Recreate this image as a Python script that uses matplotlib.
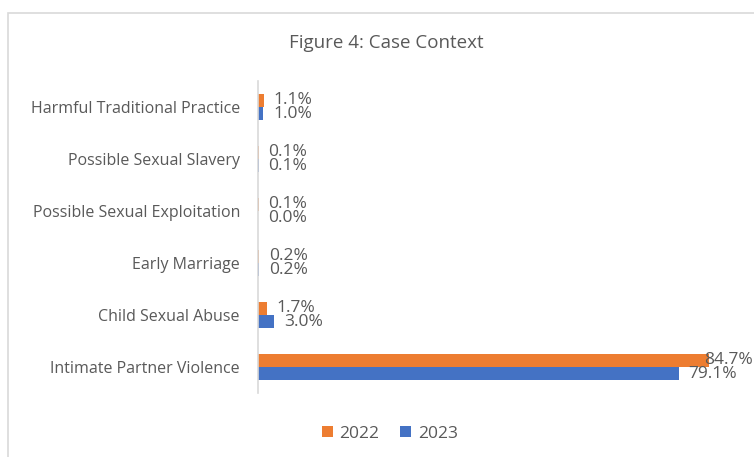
import matplotlib
matplotlib.use("Agg")
import matplotlib.pyplot as plt
import numpy as np
from matplotlib.patches import Rectangle

categories = ["Intimate Partner Violence", "Child Sexual Abuse", "Early Marriage",
              "Possible Sexual Exploitation", "Possible Sexual Slavery", "Harmful Traditional Practice"]
values_2022 = [84.7, 1.7, 0.2, 0.1, 0.1, 1.1]
values_2023 = [79.1, 3.0, 0.2, 0.0, 0.1, 1.0]
series_labels = ["2022", "2023"]

plt.rcParams['font.family'] = ['Open Sans', 'DejaVu Sans']
TXT = "#595959"
C22 = "#ED7D31"
C23 = "#4472C4"

fig = plt.figure(figsize=(7.54, 4.57), dpi=100)
fig.patches.append(Rectangle((8/754, -0.1), 1.0, 1 - 13/457 + 0.1, transform=fig.transFigure,
                             fill=False, edgecolor="#d9d9d9", linewidth=1.2))

ax = fig.add_axes([258/754, 1 - 393/457, (737 - 258)/754, (393 - 81)/457])
y = np.arange(len(categories))
h = 0.25
b22 = ax.barh(y + h/2, values_2022, height=h, color=C22, label=series_labels[0])
b23 = ax.barh(y - h/2, values_2023, height=h, color=C23, label=series_labels[1])

annots = []
for bars, vals in ((b22, values_2022), (b23, values_2023)):
    for bar, v in zip(bars, vals):
        a = ax.annotate(f"{v:.1f}%", (bar.get_width(), bar.get_y() + bar.get_height()/2),
                        xytext=(7, 0), textcoords="offset points", va="center", ha="left",
                        fontsize=12.5, color=TXT, annotation_clip=False)
        annots.append(a)

ax.set_xlim(0, 90)
ax.set_ylim(-0.5, len(categories) - 0.5)
ax.set_yticks(y)
ax.set_yticklabels(categories, fontsize=11.5, color=TXT)
ax.tick_params(axis="y", length=0, pad=13)
ax.set_xticks([])
for s in ("top", "right", "bottom"):
    ax.spines[s].set_visible(False)
ax.spines["left"].set_color("#d9d9d9")
ax.spines["left"].set_linewidth(1.2)

fig.text(386/754, 1 - 43/457, "Figure 4: Case Context", ha="center", va="center",
         fontsize=13.5, color=TXT)

leg = fig.legend(handles=[b22, b23], labels=series_labels, loc="center",
                 bbox_to_anchor=(390/754, 1 - 434/457), ncol=2, frameon=False,
                 fontsize=12.5, handlelength=0.6, handleheight=0.6, handletextpad=0.4,
                 columnspacing=1.2)
for t in leg.get_texts():
    t.set_color(TXT)

# keep data labels inside the figure (as the source chart does)
fig.canvas.draw()
renderer = fig.canvas.get_renderer()
W = fig.bbox.width
for a in annots:
    ext = a.get_window_extent(renderer)
    if ext.x1 > W - 1:
        shift_px = ext.x1 - (W - 1)
        dx, dy = a.xyann
        a.xyann = (dx - shift_px * 72 / fig.dpi, dy)

fig.savefig("out.png", dpi=100)
